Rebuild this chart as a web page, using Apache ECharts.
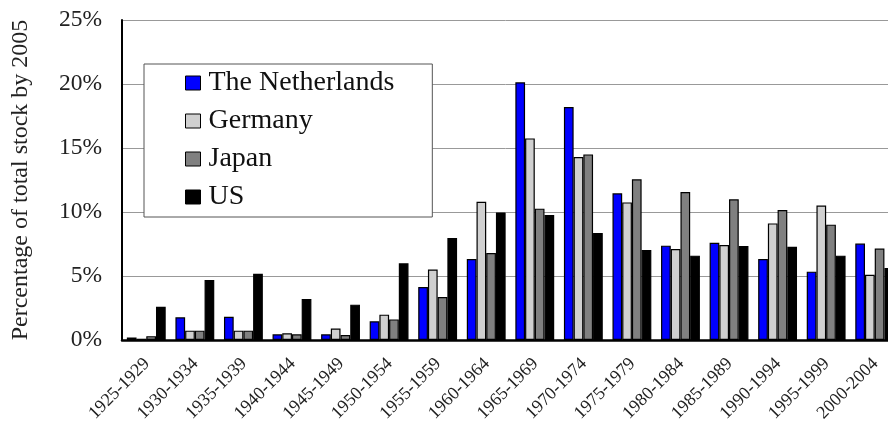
<!DOCTYPE html>
<html>
<head>
<meta charset="utf-8">
<script src="https://cdn.jsdelivr.net/npm/echarts@6/dist/echarts.min.js"></script>
<style>
html,body{margin:0;padding:0;background:#fff;}
#chart{width:888px;height:421px;}
</style>
</head>
<body>
<div id="chart"></div>
<script>
const categories = ['1925-1929','1930-1934','1935-1939','1940-1944','1945-1949','1950-1954','1955-1959','1960-1964','1965-1969','1970-1974','1975-1979','1980-1984','1985-1989','1990-1994','1995-1999','2000-2004'];
const netherlands = [0.2,1.77,1.82,0.44,0.44,1.46,4.14,6.33,20.13,18.2,11.46,7.37,7.6,6.33,5.34,7.53];
const germany = [0.1,0.73,0.73,0.52,0.89,1.98,5.5,10.8,15.75,14.3,10.75,7.11,7.42,9.11,10.5,5.1];
const japan = [0.3,0.73,0.73,0.44,0.39,1.61,3.36,6.8,10.26,14.5,12.55,11.56,10.99,10.16,9.01,7.14];
const us = [2.6,4.69,5.18,3.2,2.76,5.99,7.97,9.97,9.77,8.36,7.03,6.59,7.34,7.29,6.59,5.63];
const seriesNames = ['The Netherlands','Germany','Japan','US'];
const seriesColors = ['#0000ff','#d0d0d0','#808080','#000000'];
const seriesData = [netherlands, germany, japan, us];

const FONT = "'Liberation Serif','Times New Roman',serif";
const chart = echarts.init(document.getElementById('chart'));
chart.setOption({
  animation: false,
  backgroundColor: '#fff',
  grid: {left: 122, top: 20, width: 777, height: 320, containLabel: false, outerBoundsMode: 'none'},
  legend: {
    orient: 'vertical',
    left: 144,
    top: 64,
    backgroundColor: '#fff',
    borderColor: '#555',
    borderWidth: 1,
    padding: [4, 38, 5, 41],
    itemGap: 8,
    itemWidth: 15,
    itemHeight: 14,
    icon: 'rect',
    itemStyle: {borderColor: '#000', borderWidth: 1},
    textStyle: {fontFamily: FONT, fontSize: 28, color: '#111', lineHeight: 30, padding: [0,0,0,3]},
    data: seriesNames
  },
  xAxis: {
    type: 'category',
    data: categories,
    axisLine: {show: true, lineStyle: {color: '#000', width: 2.5}},
    axisTick: {show: false},
    axisLabel: {rotate: 45, margin: 9, interval: 0, verticalAlign: 'top', padding: [0, 8, 0, 0], fontFamily: FONT, fontSize: 18, color: '#222'}
  },
  yAxis: {
    type: 'value',
    min: 0, max: 25, interval: 5,
    name: 'Percentage of total stock by 2005',
    nameLocation: 'middle',
    nameRotate: 90,
    nameGap: 89,
    nameTextStyle: {fontFamily: FONT, fontSize: 24, color: '#222'},
    axisLine: {show: true, lineStyle: {color: '#000', width: 2}},
    axisTick: {show: false},
    axisLabel: {formatter: '{value}%', margin: 20, fontFamily: FONT, fontSize: 23.5, color: '#222'},
    splitLine: {show: true, lineStyle: {color: '#999', width: 1}}
  },
  series: seriesNames.map((n, i) => ({
    name: n,
    type: 'bar',
    data: seriesData[i],
    barGap: '0%',
    barCategoryGap: '20%',
    itemStyle: {color: seriesColors[i], borderColor: '#000', borderWidth: 1.2}
  }))
});
</script>
</body>
</html>
